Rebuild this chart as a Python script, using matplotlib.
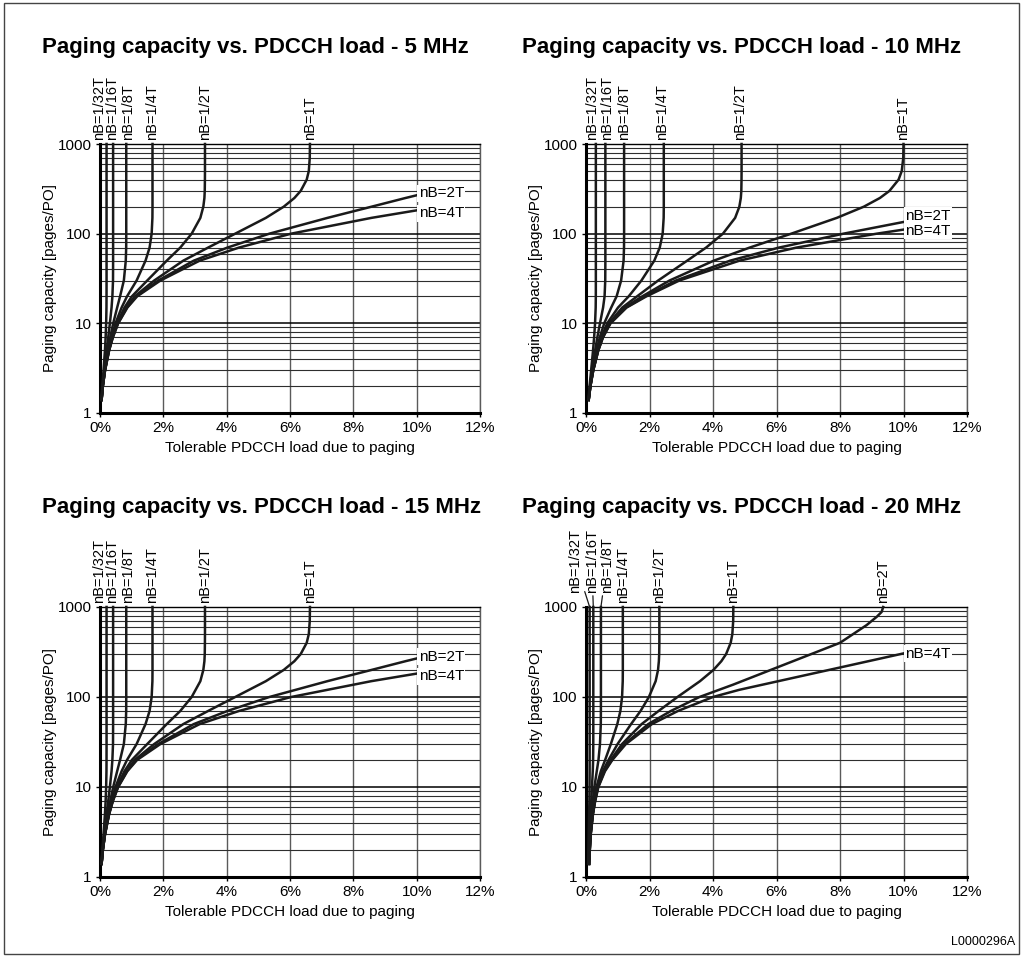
import matplotlib
matplotlib.use('Agg')
import matplotlib.pyplot as plt
import matplotlib.ticker as ticker
from matplotlib.patches import Rectangle

plt.rcParams['font.family'] = ['Liberation Sans', 'DejaVu Sans']

W, H = 1023, 958  # output size in pixels (dpi 100)

# capacity grid [pages/PO] shared by the curves that run up to the top
CAP = [1.4, 2, 3, 5, 7, 10, 15, 20, 30, 50, 70, 100, 150, 200, 250, 300, 400, 500, 700, 1000]

# tolerable PDCCH load [%] at each CAP value
LOAD_5MHZ = {
    'nB=1/32T': [0.044, 0.073, 0.111, 0.156, 0.178, 0.194, 0.204, 0.206, 0.207, 0.207,
                 0.207, 0.207, 0.207, 0.207, 0.207, 0.207, 0.207, 0.207, 0.207, 0.207],
    'nB=1/16T': [0.047, 0.081, 0.133, 0.209, 0.260, 0.312, 0.365, 0.391, 0.411, 0.414,
                 0.414, 0.414, 0.414, 0.414, 0.414, 0.414, 0.414, 0.414, 0.414, 0.414],
    'nB=1/8T': [0.049, 0.085, 0.146, 0.245, 0.324, 0.417, 0.542, 0.634, 0.753, 0.814,
                0.827, 0.829, 0.829, 0.829, 0.829, 0.829, 0.829, 0.829, 0.829, 0.829],
    'nB=1/4T': [0.049, 0.088, 0.153, 0.266, 0.363, 0.489, 0.683, 0.854, 1.156, 1.438,
                1.566, 1.631, 1.655, 1.658, 1.658, 1.658, 1.658, 1.658, 1.658, 1.658],
    'nB=1/2T': [0.050, 0.089, 0.156, 0.278, 0.386, 0.532, 0.773, 1.007, 1.491, 2.108,
                2.536, 2.895, 3.169, 3.263, 3.297, 3.308, 3.313, 3.315, 3.315, 3.315],
    'nB=1T': [0.050, 0.089, 0.158, 0.284, 0.398, 0.556, 0.824, 1.098, 1.711, 2.630,
              3.416, 4.270, 5.238, 5.803, 6.139, 6.338, 6.527, 6.594, 6.624, 6.630],
}
CAP_2T_5MHZ = [1.4, 2, 3, 5, 7, 10, 15, 20, 30, 50, 70, 100, 150, 200, 250, 268]
LOAD_2T_5MHZ = [0.050, 0.090, 0.159, 0.287, 0.404, 0.568, 0.852, 1.147, 1.839, 2.961, 4.027, 5.349, 7.184, 8.577, 9.649, 10.0]
CAP_4T_5MHZ = [1.4, 2, 3, 5, 7, 10, 15, 20, 30, 50, 70, 100, 150, 182]
LOAD_4T_5MHZ = [0.050, 0.090, 0.160, 0.288, 0.407, 0.574, 0.865, 1.173, 1.907, 3.147, 4.392, 6.036, 8.571, 10.0]

LOAD_10MHZ = {
    'nB=1/32T': [0.074, 0.113, 0.162, 0.222, 0.256, 0.285, 0.305, 0.309, 0.310, 0.310,
                 0.310, 0.310, 0.310, 0.310, 0.310, 0.310, 0.310, 0.310, 0.310, 0.310],
    'nB=1/16T': [0.079, 0.125, 0.192, 0.288, 0.358, 0.440, 0.538, 0.585, 0.606, 0.610,
                 0.610, 0.610, 0.610, 0.610, 0.610, 0.610, 0.610, 0.610, 0.610, 0.610],
    'nB=1/8T': [0.082, 0.132, 0.209, 0.333, 0.435, 0.574, 0.794, 0.964, 1.106, 1.184,
                1.197, 1.200, 1.200, 1.200, 1.200, 1.200, 1.200, 1.200, 1.200, 1.200],
    'nB=1/4T': [0.084, 0.136, 0.220, 0.361, 0.485, 0.668, 1.009, 1.345, 1.745, 2.151,
                2.323, 2.415, 2.446, 2.450, 2.450, 2.450, 2.450, 2.450, 2.450, 2.450],
    'nB=1/2T': [0.084, 0.138, 0.225, 0.375, 0.511, 0.721, 1.142, 1.609, 2.271, 3.187,
                3.784, 4.313, 4.697, 4.830, 4.876, 4.892, 4.898, 4.900, 4.900, 4.900],
    'nB=1T': [0.085, 0.139, 0.227, 0.383, 0.526, 0.750, 1.219, 1.772, 2.629, 4.025,
              5.157, 6.465, 7.899, 8.751, 9.257, 9.558, 9.844, 9.945, 9.993, 10.0],
}
CAP_2T_10MHZ = [1.4, 2, 3, 5, 7, 10, 15, 20, 30, 50, 70, 100, 135]
LOAD_2T_10MHZ = [0.085, 0.140, 0.229, 0.386, 0.533, 0.765, 1.258, 1.858, 2.828, 4.540, 6.082, 8.110, 10.0]
CAP_4T_10MHZ = [1.4, 2, 3, 5, 7, 10, 15, 20, 30, 50, 70, 100, 111]
LOAD_4T_10MHZ = [0.085, 0.140, 0.229, 0.388, 0.536, 0.772, 1.279, 1.903, 2.937, 4.833, 6.633, 9.156, 10.0]

LOAD_20MHZ = {
    'nB=1/32T': [0.067, 0.075, 0.084, 0.098, 0.106, 0.111, 0.114, 0.115, 0.115, 0.115,
                 0.115, 0.115, 0.115, 0.115, 0.115, 0.115, 0.115, 0.115, 0.115, 0.115],
    'nB=1/16T': [0.081, 0.094, 0.110, 0.142, 0.165, 0.188, 0.213, 0.224, 0.229, 0.230,
                 0.230, 0.230, 0.230, 0.230, 0.230, 0.230, 0.230, 0.230, 0.230, 0.230],
    'nB=1/8T': [0.090, 0.106, 0.128, 0.176, 0.216, 0.265, 0.339, 0.393, 0.440, 0.466,
                0.469, 0.470, 0.470, 0.470, 0.470, 0.470, 0.470, 0.470, 0.470, 0.470],
    'nB=1/4T': [0.096, 0.114, 0.141, 0.200, 0.257, 0.331, 0.468, 0.603, 0.782, 0.986,
                1.083, 1.136, 1.157, 1.160, 1.160, 1.160, 1.160, 1.160, 1.160, 1.160],
    'nB=1/2T': [0.098, 0.117, 0.145, 0.210, 0.273, 0.359, 0.529, 0.711, 0.994, 1.419,
                1.719, 1.981, 2.194, 2.269, 2.295, 2.305, 2.310, 2.310, 2.310, 2.310],
    'nB=1T': [0.099, 0.119, 0.148, 0.215, 0.281, 0.374, 0.563, 0.777, 1.134, 1.752,
              2.287, 2.881, 3.591, 4.015, 4.263, 4.413, 4.557, 4.609, 4.636, 4.640],
}
CAP_2T_20MHZ = [1.4, 2, 3, 5, 7, 10, 15, 20, 30, 50, 70, 100, 137, 400, 630, 780, 880, 1000]
LOAD_2T_20MHZ = [0.100, 0.119, 0.149, 0.217, 0.286, 0.382, 0.581, 0.813, 1.214, 1.961, 2.675, 3.573, 4.630, 8.000, 8.840, 9.160, 9.310, 9.360]
CAP_4T_20MHZ = [1.4, 2, 3, 5, 7, 10, 15, 20, 30, 50, 70, 100, 120, 305]
LOAD_4T_20MHZ = [0.100, 0.120, 0.150, 0.220, 0.290, 0.390, 0.599, 0.831, 1.255, 2.075, 2.898, 3.997, 4.821, 10.0]

TITLES = ['Paging capacity vs. PDCCH load - 5 MHz', 'Paging capacity vs. PDCCH load - 10 MHz',
          'Paging capacity vs. PDCCH load - 15 MHz', 'Paging capacity vs. PDCCH load - 20 MHz']


def curves_of(loads, cap2, load2, cap4, load4):
    out = [(name, CAP, vals) for name, vals in loads.items()]
    out.append(('nB=2T', cap2, load2))
    out.append(('nB=4T', cap4, load4))
    return out


PANEL_CURVES = [
    curves_of(LOAD_5MHZ, CAP_2T_5MHZ, LOAD_2T_5MHZ, CAP_4T_5MHZ, LOAD_4T_5MHZ),
    curves_of(LOAD_10MHZ, CAP_2T_10MHZ, LOAD_2T_10MHZ, CAP_4T_10MHZ, LOAD_4T_10MHZ),
    curves_of(LOAD_5MHZ, CAP_2T_5MHZ, LOAD_2T_5MHZ, CAP_4T_5MHZ, LOAD_4T_5MHZ),  # 15 MHz looks the same
    curves_of(LOAD_20MHZ, CAP_2T_20MHZ, LOAD_2T_20MHZ, CAP_4T_20MHZ, LOAD_4T_20MHZ),
]

# layout (pixels): axes box, title baseline, shifts of the top labels
BOXES = [(100, 144, 480, 413), (586, 144, 967, 413), (100, 607, 480, 877), (586, 607, 967, 877)]
TITLE_POS = [(42, 53.5), (522, 53.5), (42, 513), (522, 513)]
TOP_DX = [
    {'nB=1/32T': -7.5, 'nB=1/16T': -0.8, 'nB=1/8T': 1.5},
    {'nB=1/32T': -4, 'nB=1/16T': 1.3, 'nB=1/4T': -2, 'nB=1/2T': -1.7},
    {'nB=1/32T': -7.5, 'nB=1/16T': -0.8, 'nB=1/8T': 1.5},
    {'nB=1/32T': -14.7, 'nB=1/16T': -1.6, 'nB=1/8T': 5.8},
]
TOP_DY = [{}, {}, {}, {'nB=1/32T': 10, 'nB=1/16T': 10, 'nB=1/8T': 10}]
SIDE_Y = [{'nB=2T': 281, 'nB=4T': 169}, {'nB=2T': 158, 'nB=4T': 107},
          {'nB=2T': 281, 'nB=4T': 169}, {'nB=4T': 302}]

PT = 0.72  # points per pixel at dpi 100

fig = plt.figure(figsize=(W / 100, H / 100), dpi=100)
fig.add_artist(Rectangle((4 / W, 1 - 954 / H), 1015 / W, 951 / H, transform=fig.transFigure,
                         fill=False, lw=1.0, ec='#444444'))

for i in range(4):
    x0, y0, x1, y1 = BOXES[i]
    ax = fig.add_axes([x0 / W, 1 - y1 / H, (x1 - x0) / W, (y1 - y0) / H])
    ax.set_yscale('log')
    ax.set_xlim(0, 12)
    ax.set_ylim(1, 1000)
    ax.xaxis.set_major_locator(ticker.MultipleLocator(2))
    ax.xaxis.set_major_formatter(ticker.FuncFormatter(lambda v, p: '%d%%' % round(v)))
    ax.yaxis.set_major_locator(ticker.FixedLocator([1, 10, 100, 1000]))
    ax.yaxis.set_major_formatter(ticker.FuncFormatter(lambda v, p: '%g' % v))
    ax.yaxis.set_minor_locator(ticker.LogLocator(base=10, subs=range(2, 10)))
    ax.yaxis.set_minor_formatter(ticker.NullFormatter())
    ax.tick_params(which='major', length=3, width=1, labelsize=11, pad=3, color='black')
    ax.tick_params(which='minor', length=0)

    ax.grid(True, which='major', axis='x', color='#5a5a5a', lw=1.0)
    ax.grid(True, which='major', axis='y', color='black', lw=1.1)
    ax.grid(True, which='minor', axis='y', color='#2e2e2e', lw=0.8)
    ax.set_axisbelow(True)
    for s in ('left', 'bottom'):
        ax.spines[s].set_linewidth(2.2)
    ax.spines['top'].set_linewidth(1.0)
    ax.spines['right'].set_linewidth(1.0)
    ax.spines['right'].set_color('#5a5a5a')

    for name, caps, loads in PANEL_CURVES[i]:
        ax.plot(loads, caps, color='#1a1a1a', lw=1.8, solid_joinstyle='round', clip_on=False, zorder=3)
        if caps[-1] >= 1000:
            dx = TOP_DX[i].get(name, 0)
            dy = TOP_DY[i].get(name, 0)
            props = None
            if dy:
                props = dict(arrowstyle='-', lw=0.9, color='#1a1a1a', shrinkA=0, shrinkB=0)
            ax.annotate(name, xy=(loads[-1], 1.0), xycoords=('data', 'axes fraction'),
                        xytext=(dx * PT, (4 + dy) * PT), textcoords='offset points',
                        rotation=90, ha='center', va='bottom', fontsize=10.5,
                        arrowprops=props, annotation_clip=False)
        else:
            ax.text(10.06, SIDE_Y[i][name], name, ha='left', va='center', fontsize=11, zorder=4,
                    bbox=dict(facecolor='white', edgecolor='none', pad=1.0))

    fig.text(TITLE_POS[i][0] / W, 1 - TITLE_POS[i][1] / H, TITLES[i], fontsize=16,
             weight='bold', ha='left', va='baseline')
    fig.text((x0 + x1) / 2 / W, 1 - (y1 + 35) / H, 'Tolerable PDCCH load due to paging',
             fontsize=11, ha='center', va='center')
    fig.text((x0 - 50) / W, 1 - (y0 + y1) / 2 / H, 'Paging capacity [pages/PO]',
             fontsize=11, ha='center', va='center', rotation=90)

fig.text(1015 / W, 1 - 942 / H, 'L0000296A', fontsize=9, ha='right', va='center')

fig.savefig('out.png', dpi=100)
